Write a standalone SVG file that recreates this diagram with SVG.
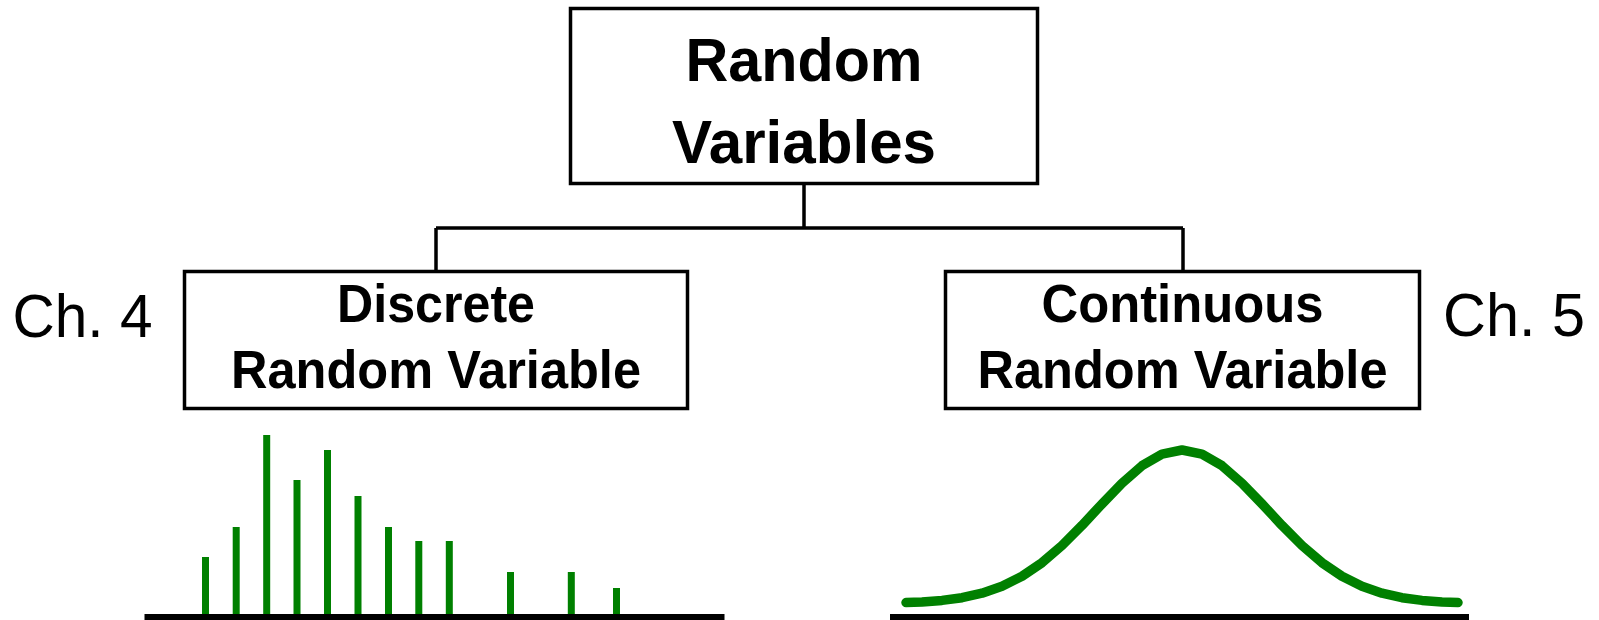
<svg xmlns="http://www.w3.org/2000/svg" width="1599" height="620" viewBox="0 0 1599 620">
  <style>
    .box { fill: #ffffff; stroke: #000000; stroke-width: 3.5; }
    .title { font-family: "Liberation Sans", Arial, sans-serif; font-weight: bold; fill: #000000; text-anchor: middle; }
    .ch { font-family: "Liberation Sans", Arial, sans-serif; font-size: 61px; fill: #000000; }
    .conn { fill: none; stroke: #000000; stroke-width: 3.5; }
    .bar { fill: #008000; }
    .axis { fill: #000000; }
    .curve { fill: none; stroke: #008000; stroke-width: 9.5; stroke-linecap: round; stroke-linejoin: round; }
  </style>
  <rect width="1599" height="620" fill="#ffffff"/>

  <g id="connectors">
    <path class="conn" d="M804 183 V228 M436 228 H1183 M436 228 V271 M1183 228 V271"/>
  </g>

  <g id="random-variables">
    <rect class="box" x="570.5" y="8.5" width="467" height="175"/>
    <text class="title" x="804" y="80.5" font-size="62" textLength="237" lengthAdjust="spacingAndGlyphs">Random</text>
    <text class="title" x="804" y="162.5" font-size="62" textLength="264" lengthAdjust="spacingAndGlyphs">Variables</text>
  </g>

  <g id="discrete">
    <rect class="box" x="184.5" y="271.5" width="503" height="137"/>
    <text class="title" x="436" y="321.5" font-size="53" textLength="198" lengthAdjust="spacingAndGlyphs">Discrete</text>
    <text class="title" x="436" y="388" font-size="53" textLength="410" lengthAdjust="spacingAndGlyphs">Random Variable</text>
  </g>

  <g id="continuous">
    <rect class="box" x="945.5" y="271.5" width="474" height="137"/>
    <text class="title" x="1182.5" y="321.5" font-size="53" textLength="282" lengthAdjust="spacingAndGlyphs">Continuous</text>
    <text class="title" x="1182.5" y="388" font-size="53" textLength="410" lengthAdjust="spacingAndGlyphs">Random Variable</text>
  </g>

  <g id="ch4">
    <text class="ch" x="12.5" y="336.5" textLength="140" lengthAdjust="spacingAndGlyphs">Ch. 4</text>
  </g>
  <g id="ch5">
    <text class="ch" x="1443" y="336" textLength="142" lengthAdjust="spacingAndGlyphs">Ch. 5</text>
  </g>

  <g id="discrete-plot">
    <rect class="bar" x="202" y="557" width="7" height="61"/>
    <rect class="bar" x="232.7" y="527" width="7" height="91"/>
    <rect class="bar" x="263.2" y="435" width="7" height="183"/>
    <rect class="bar" x="293.5" y="480" width="7" height="138"/>
    <rect class="bar" x="324" y="450" width="7" height="168"/>
    <rect class="bar" x="354.5" y="496" width="7" height="122"/>
    <rect class="bar" x="385" y="527" width="7" height="91"/>
    <rect class="bar" x="415.3" y="541" width="7" height="77"/>
    <rect class="bar" x="445.8" y="541" width="7" height="77"/>
    <rect class="bar" x="507" y="572" width="7" height="46"/>
    <rect class="bar" x="567.8" y="572" width="7" height="46"/>
    <rect class="bar" x="613" y="588" width="7" height="30"/>
    <rect class="axis" x="144.5" y="614" width="580" height="6"/>
  </g>

  <g id="continuous-plot">
    <path class="curve" d="M906 602.6 L922 601.9 L942 600.4 L962 597.7 L982 593.2 L1002 586.3 L1022 576.3 L1042 562.7 L1062 545.5 L1082 525.4 L1102 503.9 L1122 483.2 L1142 465.7 L1162 454.1 L1182 450 L1202 454.1 L1222 465.7 L1242 483.2 L1262 503.9 L1282 525.4 L1302 545.5 L1322 562.7 L1342 576.3 L1362 586.3 L1382 593.2 L1402 597.7 L1422 600.4 L1442 601.9 L1458 602.6"/>
    <rect class="axis" x="890" y="614" width="579" height="6"/>
  </g>
</svg>
